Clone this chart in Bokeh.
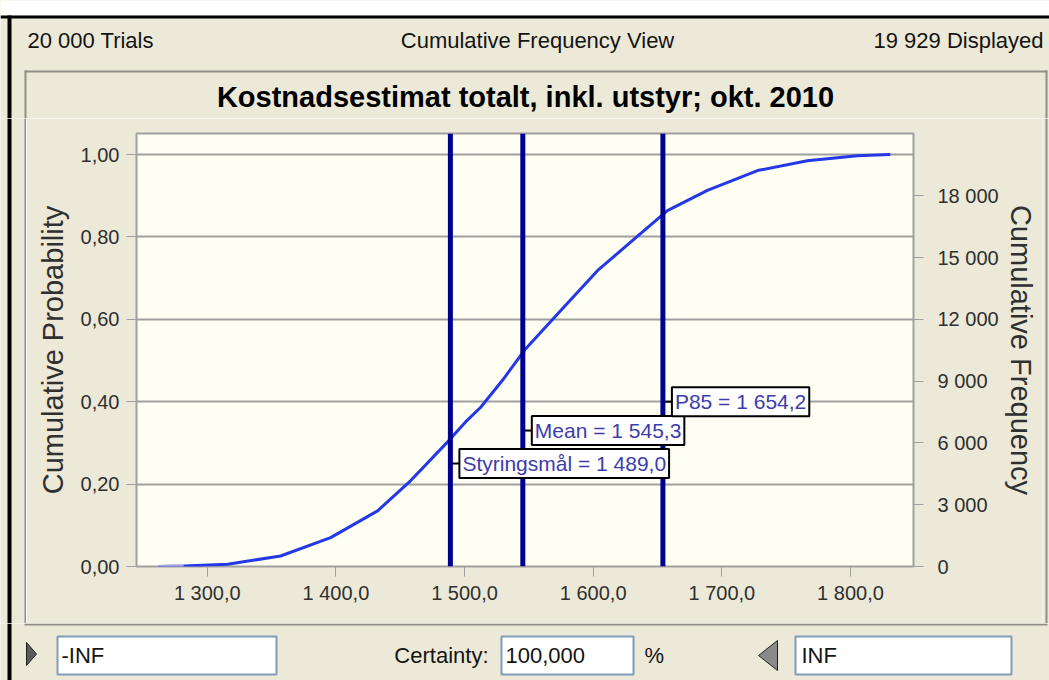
from bokeh.plotting import figure
from bokeh.layouts import column, row
from bokeh.models import Range1d, LinearAxis, FixedTicker, Span, Label, Grid
from bokeh.core.properties import value
from bokeh.embed import file_html
from bokeh.resources import INLINE

# ---------------- data ----------------
trial_values = [1262.2, 1281.7, 1315.9, 1357.0, 1395.9, 1432.4, 1458.0, 1487.6,
                1500.8, 1512.4, 1529.5, 1547.4, 1572.3, 1603.3, 1636.8, 1657.7,
                1688.8, 1727.7, 1766.5, 1805.4, 1831.0]
cum_prob = [0.0, 0.001, 0.0055, 0.0255, 0.070, 0.135, 0.208, 0.305,
            0.351, 0.386, 0.452, 0.528, 0.613, 0.718, 0.808, 0.864,
            0.913, 0.961, 0.985, 0.997, 1.0]

marker_names = ["Styringsmål", "Mean", "P85"]
marker_values = [1489.0, 1545.3, 1654.2]
marker_label_prob = [0.25, 0.33, 0.40]

x_ticks = [1300, 1400, 1500, 1600, 1700, 1800]
x_tick_labels = ["1 300,0", "1 400,0", "1 500,0", "1 600,0", "1 700,0", "1 800,0"]
prob_ticks = [0, 0.2, 0.4, 0.6, 0.8, 1]
prob_tick_labels = ["0,00", "0,20", "0,40", "0,60", "0,80", "1,00"]
freq_ticks = [0, 3000, 6000, 9000, 12000, 15000, 18000]
freq_tick_labels = ["0", "3 000", "6 000", "9 000", "12 000", "15 000", "18 000"]
total_trials = 20000

header_texts = ["20 000 Trials", "Cumulative Frequency View", "19 929 Displayed"]
title_text = "Kostnadsestimat totalt, inkl. utstyr; okt. 2010"
lower_text = "-INF"
certainty_label = "Certainty:"
certainty_text = "100,000"
percent_text = "%"
upper_text = "INF"

# ---------------- layout constants ----------------
FULL_W, FULL_H = 1049, 680
HEAD_H, MID_H, FOOT_H = 118, 505, 57
LEFT_W, MAIN_W, RIGHT_W = 26, 1016, 7
BL, BR, BT, BB = 110, 129, 15, 57
X0, X1 = 1245, 1849
Y1 = 1.051
FONT = "Liberation Sans"
BEIGE = "#ECE9D8"
PANEL_LINE = "#8F8F88"
TEXTBOX_LINE = "#7F9DB9"


def fmt(v):
    return f"{v:,.1f}".replace(",", " ").replace(".", ",")


# ---------------- main chart ----------------
p = figure(width=MAIN_W, height=MID_H, x_range=Range1d(X0, X1), y_range=Range1d(0, Y1),
           output_backend="svg", toolbar_location=None,
           min_border_left=BL, min_border_right=BR, min_border_top=BT, min_border_bottom=BB,
           background_fill_color="#FEFEF3", border_fill_color=BEIGE,
           outline_line_color="#A0A0A0", outline_line_width=2)
p.frame_align = False
p.extra_y_ranges = {"freq": Range1d(0, Y1 * total_trials)}

p.xgrid.visible = False
p.ygrid.ticker = FixedTicker(ticks=prob_ticks)
p.ygrid.grid_line_color = "#A0A0A0"
p.ygrid.grid_line_width = 2


def style_axis(ax):
    ax.axis_line_color = None
    ax.major_tick_line_color = "#A0A0A0"
    ax.major_tick_line_width = 1
    ax.major_tick_in = 0
    ax.major_tick_out = 10
    ax.minor_tick_line_color = None
    ax.major_label_text_font = FONT
    ax.major_label_text_font_size = "20px"
    ax.major_label_text_color = "#303030"
    ax.axis_label_text_font = FONT
    ax.axis_label_text_font_size = "29px"
    ax.axis_label_text_font_style = "normal"
    ax.axis_label_text_color = "#303030"


xa = p.xaxis[0]
style_axis(xa)
xa.ticker = FixedTicker(ticks=x_ticks)
xa.major_label_overrides = dict(zip(x_ticks, x_tick_labels))
xa.major_label_standoff = 5

ya = p.yaxis[0]
style_axis(ya)
ya.ticker = FixedTicker(ticks=prob_ticks)
ya.major_label_overrides = dict(zip(prob_ticks, prob_tick_labels))
ya.major_label_standoff = 7
ya.axis_label = "Cumulative Probability"
ya.axis_label_standoff = 9

ra = LinearAxis(y_range_name="freq")
style_axis(ra)
ra.ticker = FixedTicker(ticks=freq_ticks)
ra.major_label_overrides = dict(zip(freq_ticks, freq_tick_labels))
ra.major_label_standoff = 14
ra.axis_label = "Cumulative Frequency"
ra.axis_label_standoff = 3
p.add_layout(ra, "right")

# cumulative curve
p.line(trial_values, cum_prob, line_color="#2438E8", line_width=3)
p.line(trial_values[:2], cum_prob[:2], line_color="#A4A4E4", line_width=3)

# marker lines, connectors and value boxes
px_per_unit = (MAIN_W - BL - BR) / (X1 - X0)
conn = 9 / px_per_unit
p.segment(x0=marker_values, y0=marker_label_prob,
          x1=[v + conn for v in marker_values], y1=marker_label_prob,
          line_color="black", line_width=2)
for v in marker_values:
    p.add_layout(Span(location=v, dimension="height", line_color="#00008F", line_width=5))
for name, v, py in zip(marker_names, marker_values, marker_label_prob):
    p.add_layout(Label(x=v, y=py, text=f"{name} = {fmt(v)}", x_offset=9,
                       text_align="left", text_baseline="middle",
                       text_font=FONT, text_font_size="21px", text_color="#3C3CAA",
                       background_fill_color="white", border_line_color="black",
                       border_line_width=2, padding=3))


# ---------------- window chrome (pixel-space figures) ----------------
def chrome_fig(w, h):
    f = figure(width=w, height=h, x_range=Range1d(0, w), y_range=Range1d(h, 0),
               output_backend="svg", toolbar_location=None, min_border=0,
               x_axis_location=None, y_axis_location=None,
               background_fill_color=BEIGE, border_fill_color=BEIGE,
               outline_line_color=None)
    f.frame_align = False
    for g in f.select(type=Grid):
        g.visible = False
    return f


def rect(f, l, r, t, b, fill, line=None, lw=1):
    f.quad(left=[l], right=[r], top=[t], bottom=[b], fill_color=fill,
           line_color=line, line_width=lw)


def txt(f, x, y, s, align="left", size="22px", color="#141414", style="normal"):
    f.text(x=[x], y=[y], text=[s], text_font=value(FONT), text_font_size=size,
           text_align=align, text_baseline="middle", text_color=color,
           text_font_style=style)


# header (window strip, run info, chart panel top and chart title)
head = chrome_fig(FULL_W, HEAD_H)
rect(head, 0, FULL_W, 0, 15, "white")
rect(head, 0, FULL_W, 15, 18, "black")
rect(head, 7, 11, 15, HEAD_H, "black")
rect(head, 24, 1047, 70, 72, PANEL_LINE)
rect(head, 24, 26, 70, HEAD_H, PANEL_LINE)
rect(head, 1045, 1047, 70, HEAD_H, PANEL_LINE)
txt(head, 27, 40, header_texts[0])
txt(head, 537, 40, header_texts[1], align="center")
txt(head, 1043, 40, header_texts[2], align="right")
txt(head, 525, 96, title_text, align="center", size="29px", color="#000000", style="bold")

# left / right strips beside the chart
left = chrome_fig(LEFT_W, MID_H)
rect(left, 7, 11, 0, MID_H, "black")
rect(left, 24, 26, 0, MID_H, PANEL_LINE)
right = chrome_fig(RIGHT_W, MID_H)
rect(right, 3, 5, 0, MID_H, PANEL_LINE)

# footer with the certainty controls
foot = chrome_fig(FULL_W, FOOT_H)
rect(foot, 7, 11, 0, FOOT_H, "black")
rect(foot, 24, 1047, 0, 2, PANEL_LINE)
foot.patch([26, 36, 26], [19, 30.5, 42], fill_color="#5A5A5A", line_color="#202020")
foot.patch([777, 758, 777], [17, 32, 47], fill_color="#8A8A8A", line_color="#202020")
for l, r in [(57, 276), (501, 633), (795, 1011)]:
    rect(foot, l, r, 13, 51, "white", TEXTBOX_LINE, 2)
txt(foot, 61, 32, lower_text)
txt(foot, 488, 32, certainty_label, align="right")
txt(foot, 505, 32, certainty_text)
txt(foot, 644, 32, percent_text)
txt(foot, 801, 32, upper_text)

layout = column(head, row(left, p, right), foot)
open("out.html", "w").write(file_html(layout, INLINE))
